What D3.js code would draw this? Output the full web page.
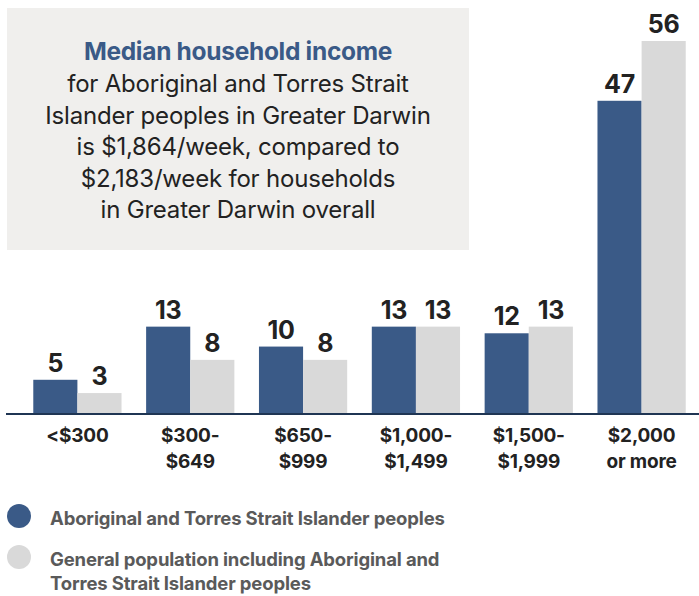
<!DOCTYPE html>
<html><head><meta charset="utf-8">
<script src="https://cdn.jsdelivr.net/npm/d3@7"></script>
<style>
html,body{margin:0;padding:0;background:#fff;}
svg{display:block;font-family:Inter, "Noto Sans", sans-serif;}
</style></head>
<body>
<svg id="chart" width="699" height="596"></svg>
<script>
const categories = [["<$300"],["$300-","$649"],["$650-","$999"],["$1,000-","$1,499"],["$1,500-","$1,999"],["$2,000","or more"]];
const aboriginal = [5, 13, 10, 13, 12, 47];
const general = [3, 8, 8, 13, 13, 56];
const seriesNames = ["Aboriginal and Torres Strait Islander peoples", ["General population including Aboriginal and","Torres Strait Islander peoples"]];
const colors = ["#3a5a87", "#d9d9d9"];
const titleBold = "Median household income";
const titleLines = ["for Aboriginal and Torres Strait","Islander peoples in Greater Darwin","is $1,864/week, compared to","$2,183/week for households","in Greater Darwin overall"];

const svg = d3.select("#chart");
const baseline = 413;
const x = d3.scaleBand().domain(d3.range(categories.length)).range([22, 697]).paddingInner(0.218).paddingOuter(0.1);
const xs = d3.scaleBand().domain([0,1]).range([0, x.bandwidth()]);
const y = d3.scaleLinear().domain([0, 56]).range([baseline, 41]);

// info box
svg.append("rect").attr("x",7).attr("y",8).attr("width",462).attr("height",242).attr("fill","#f0efed");
const tg = svg.append("text").attr("text-anchor","middle").attr("x",238);
tg.append("tspan").attr("x",238).attr("y",60).attr("font-weight",700).attr("fill","#3a5a87")
  .attr("font-size",24.5).attr("letter-spacing","-0.3").text(titleBold);
titleLines.forEach((t,i)=>{
  tg.append("tspan").attr("x",238).attr("y",92+i*31.6).attr("fill","#222").attr("font-size",24)
    .attr("letter-spacing","-0.2").text(t);
});

const data = categories.map((c,i)=>({c, i, v:[aboriginal[i], general[i]]}));
const g = svg.append("g");
const grp = g.selectAll("g.grp").data(data).join("g").attr("transform",d=>`translate(${x(d.i)},0)`);
grp.selectAll("rect").data(d=>d.v.map((v,k)=>({v,k}))).join("rect")
  .attr("x",d=>xs(d.k)).attr("width",xs.bandwidth())
  .attr("y",d=>y(d.v)).attr("height",d=>baseline-y(d.v)).attr("fill",d=>colors[d.k]);
grp.selectAll("text.val").data(d=>d.v.map((v,k)=>({v,k}))).join("text").attr("class","val")
  .attr("x",d=>xs(d.k)+xs.bandwidth()/2).attr("y",d=>y(d.v)-8)
  .attr("text-anchor","middle").attr("font-weight",700).attr("font-size",25).attr("letter-spacing","-0.3")
  .attr("fill","#222").text(d=>d.v);

// axis line
svg.append("line").attr("x1",6).attr("x2",699).attr("y1",baseline+1).attr("y2",baseline+1)
  .attr("stroke","#1f3553").attr("stroke-width",2.2);

// category labels
grp.append("text").attr("text-anchor","middle").attr("font-weight",700).attr("font-size",19)
  .attr("letter-spacing","-0.2").attr("fill","#222")
  .selectAll("tspan").data(d=>d.c).join("tspan")
  .attr("x",x.bandwidth()/2).attr("y",(d,i)=>442+i*25.5).text(d=>d);

// legend
const lg = svg.append("g");
[0,1].forEach(k=>{
  const cy = k===0 ? 516 : 557;
  lg.append("circle").attr("cx",19).attr("cy",cy).attr("r",12).attr("fill",colors[k]);
  const lines = Array.isArray(seriesNames[k]) ? seriesNames[k] : [seriesNames[k]];
  const t = lg.append("text").attr("font-weight",700).attr("font-size",18.5).attr("letter-spacing","-0.15").attr("fill","#5a5a5a");
  lines.forEach((l,j)=>t.append("tspan").attr("x",50).attr("y",cy+9+j*24).text(l));
});
</script>
</body></html>
